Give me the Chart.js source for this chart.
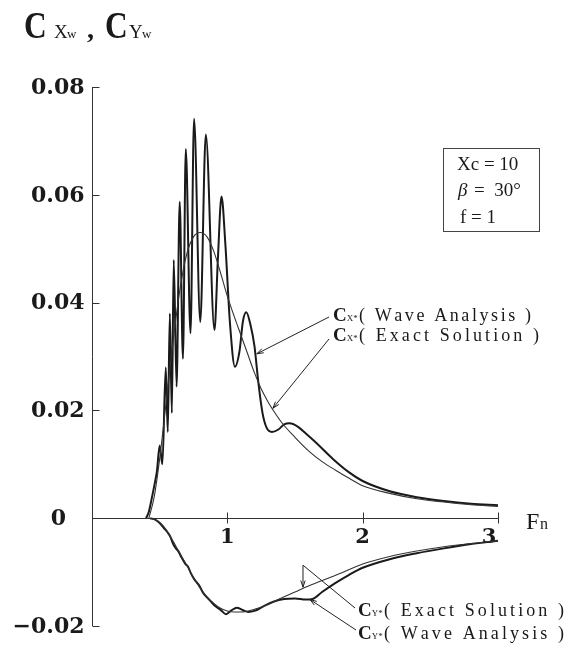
<!DOCTYPE html>
<html lang="en">
<head>
<meta charset="UTF-8" />
<title>Cxw , Cyw</title>
<style>
  html, body { margin: 0; padding: 0; background: #fff; }
  #wrap { width: 569px; height: 657px; }
</style>
</head>
<body>
<div id="wrap"><canvas id="coefChart" width="569" height="657"></canvas></div>
<script src="https://cdn.jsdelivr.net/npm/chart.js"></script>
<script>
// values (Fn on x, coefficient on y)
const cxWaveFn = [0.40, 0.42, 0.44, 0.46, 0.48, 0.50, 0.52, 0.545, 0.56, 0.575, 0.59, 0.604, 0.625, 0.648, 0.672,
  0.693, 0.728, 0.754, 0.80, 0.841, 0.905, 0.93, 0.957, 0.985, 1.02, 1.056, 1.09, 1.115, 1.14, 1.17, 1.20, 1.23,
  1.26, 1.29, 1.33, 1.38, 1.42, 1.46, 1.52, 1.58, 1.66, 1.78, 1.9, 2.0, 2.2, 2.4, 2.6, 2.8, 3.0];
const cxWave = [0, 0.0012, 0.0035, 0.0060, 0.0088, 0.0135, 0.0100, 0.0280, 0.0160, 0.0380, 0.0195, 0.0479, 0.0244, 0.0587, 0.0296,
  0.0685, 0.0343, 0.0741, 0.0364, 0.0712, 0.0349, 0.0480, 0.0597, 0.0510, 0.0360, 0.0281, 0.0310, 0.0365, 0.0382, 0.0360, 0.0320, 0.0250,
  0.0195, 0.0168, 0.0160, 0.0165, 0.0174, 0.0176, 0.0170, 0.0157, 0.0139, 0.0110, 0.0085, 0.0069, 0.0050, 0.0039, 0.0032, 0.0027, 0.0024];

const cxExactFn = [0.42, 0.46, 0.50, 0.55, 0.60, 0.65, 0.70, 0.75, 0.80, 0.85, 0.90, 0.95, 1.0, 1.05, 1.1, 1.15, 1.2,
  1.25, 1.3, 1.35, 1.4, 1.5, 1.6, 1.7, 1.8, 1.9, 2.0, 2.2, 2.4, 2.6, 2.8, 3.0];
const cxExact = [0, 0.0040, 0.0110, 0.0220, 0.0330, 0.0425, 0.0490, 0.0522, 0.0530, 0.0522, 0.0495, 0.0455, 0.0412, 0.0375, 0.0340, 0.0305, 0.0270,
  0.0240, 0.0216, 0.0196, 0.0178, 0.0150, 0.0125, 0.0105, 0.0089, 0.0074, 0.0060, 0.0046, 0.0036, 0.0030, 0.0025, 0.0022];

const cyWaveFn = [0.43, 0.47, 0.50, 0.53, 0.56, 0.58, 0.60, 0.62, 0.64, 0.66, 0.69, 0.71, 0.73, 0.76, 0.79, 0.82, 0.85, 0.88,
  0.91, 0.95, 0.99, 1.03, 1.07, 1.11, 1.155, 1.2, 1.27, 1.34, 1.42, 1.5, 1.58, 1.63, 1.7, 1.8, 1.9, 2.0, 2.2, 2.4, 2.6, 2.8, 3.0];
const cyWave = [0, -0.0003, -0.0009, -0.0018, -0.0027, -0.0035, -0.0048, -0.0056, -0.0062, -0.0072, -0.0085, -0.0090, -0.0102, -0.0115, -0.0124, -0.0138, -0.0147, -0.0155,
  -0.0163, -0.0170, -0.0178, -0.0171, -0.0166, -0.0170, -0.0174, -0.0172, -0.0163, -0.0155, -0.0150, -0.0149, -0.0151, -0.0150, -0.0137, -0.0120, -0.0105, -0.0092, -0.0076, -0.0065, -0.0056, -0.0048, -0.0042];

const cyExactFn = [0.43, 0.47, 0.50, 0.55, 0.60, 0.65, 0.70, 0.75, 0.80, 0.85, 0.90, 0.95, 1.0, 1.05, 1.1, 1.2, 1.3, 1.4,
  1.5, 1.6, 1.8, 2.0, 2.2, 2.4, 2.6, 2.8, 3.0];
const cyExact = [0, -0.0003, -0.0008, -0.0022, -0.0043, -0.0066, -0.0087, -0.0110, -0.0130, -0.0146, -0.0158, -0.0167, -0.0172, -0.0174, -0.0174, -0.0169, -0.0160, -0.0148,
  -0.0137, -0.0126, -0.0106, -0.0085, -0.0071, -0.0061, -0.0053, -0.0047, -0.0042];

const xTicks = [1, 2, 3];
const xTickLabels = ['1', '2', '3'];
const yTicks = [0.08, 0.06, 0.04, 0.02, 0, -0.02];
const yTickLabels = ['0.08', '0.06', '0.04', '0.02', '0', '\u22120.02'];

const ink = '#1a1a1a';
const serif = '"Liberation Serif", "DejaVu Serif", serif';

function pts(xs, ys) {
  return xs.map((v, i) => ({ x: v, y: ys[i] }));
}

// draw text with its letters spread so that it ends at endX
function spaced(ctx, text, x, y, endX) {
  const chars = [...text];
  const w = chars.map(c => ctx.measureText(c).width);
  const total = w.reduce((a, b) => a + b, 0);
  const gap = (endX - x - total) / (chars.length - 1);
  let cx = x;
  chars.forEach((c, i) => { ctx.fillText(c, cx, y); cx += w[i] + gap; });
}

function arrow(ctx, fx, fy, tx, ty) {
  ctx.beginPath();
  ctx.moveTo(fx, fy);
  ctx.lineTo(tx, ty);
  ctx.stroke();
  const a = Math.atan2(ty - fy, tx - fx), L = 7;
  ctx.beginPath();
  ctx.moveTo(tx - L * Math.cos(a - 0.32), ty - L * Math.sin(a - 0.32));
  ctx.lineTo(tx, ty);
  ctx.lineTo(tx - L * Math.cos(a + 0.32), ty - L * Math.sin(a + 0.32));
  ctx.stroke();
}

function coefLabel(ctx, sub, text, x, base, endX) {
  ctx.textAlign = 'left';
  ctx.textBaseline = 'alphabetic';
  ctx.font = 'bold 19px ' + serif;
  ctx.fillText('C', x, base);
  const cw = ctx.measureText('C').width;
  ctx.font = '9px ' + serif;
  ctx.fillText(sub, x + cw, base);
  ctx.font = '18px ' + serif;
  spaced(ctx, text, x + 26, base, endX);
}

// axes drawn by hand: y axis on the left, x axis through zero
const axesPlugin = {
  id: 'handAxes',
  beforeDatasetsDraw(chart) {
    const { ctx, scales: { x, y } } = chart;
    const x0 = Math.round(x.getPixelForValue(0)) + 0.5;
    const y0 = Math.round(y.getPixelForValue(0)) + 0.5;
    ctx.save();
    ctx.strokeStyle = '#333';
    ctx.lineWidth = 1;
    ctx.beginPath();
    ctx.moveTo(x0, y.getPixelForValue(0.08));
    ctx.lineTo(x0, y.getPixelForValue(-0.02));
    yTicks.forEach(v => {
      const py = Math.round(y.getPixelForValue(v)) + 0.5;
      ctx.moveTo(x0, py);
      ctx.lineTo(x0 + 7, py);
    });
    ctx.moveTo(x0, y0);
    ctx.lineTo(x.getPixelForValue(3), y0);
    xTicks.forEach(v => {
      const px = Math.round(x.getPixelForValue(v)) + 0.5;
      ctx.moveTo(px, y0 - 6);
      ctx.lineTo(px, y0 + 5);
    });
    ctx.stroke();

    ctx.fillStyle = ink;
    ctx.font = 'bold 22px "DejaVu Serif", serif';
    ctx.textBaseline = 'middle';
    yTicks.forEach((v, i) => {
      const py = y.getPixelForValue(v) + 1;
      if (v === 0) {
        ctx.textAlign = 'center';
        ctx.fillText(yTickLabels[i], x0 - 34, py);
      } else {
        ctx.textAlign = 'right';
        ctx.fillText(yTickLabels[i], x0 - 8, py);
      }
    });
    ctx.font = 'bold 21px "DejaVu Serif", serif';
    ctx.textAlign = 'center';
    ctx.textBaseline = 'alphabetic';
    xTicks.forEach((v, i) => {
      const shift = i === xTicks.length - 1 ? -9 : 0;
      ctx.fillText(xTickLabels[i], x.getPixelForValue(v) + shift, y0 + 24);
    });
    ctx.restore();
  }
};

const notesPlugin = {
  id: 'notes',
  afterDraw(chart) {
    const { ctx, scales: { x, y } } = chart;
    ctx.save();
    ctx.fillStyle = ink;
    ctx.strokeStyle = '#222';
    ctx.lineWidth = 1;

    // axis titles
    ctx.textAlign = 'left';
    ctx.textBaseline = 'alphabetic';
    ctx.save();
    ctx.translate(24, 38);
    ctx.scale(0.85, 1);
    ctx.font = 'bold 37px ' + serif;
    ctx.fillText('C', 0, 0);
    ctx.restore();
    ctx.font = '19px ' + serif;
    ctx.fillText('X', 54, 38);
    ctx.font = '13px ' + serif;
    ctx.fillText('w', 67, 38);
    ctx.font = 'bold 28px ' + serif;
    ctx.fillText(',', 87, 38);
    ctx.save();
    ctx.translate(105, 38);
    ctx.scale(0.85, 1);
    ctx.font = 'bold 37px ' + serif;
    ctx.fillText('C', 0, 0);
    ctx.restore();
    ctx.font = '19px ' + serif;
    ctx.fillText('Y', 129, 38);
    ctx.font = '13px ' + serif;
    ctx.fillText('w', 142, 38);

    ctx.font = '24px ' + serif;
    ctx.fillText('F', 526, 529);
    ctx.font = '16px ' + serif;
    ctx.fillText('n', 540, 529);

    // parameter box
    ctx.strokeStyle = '#444';
    ctx.strokeRect(443.5, 148.5, 96, 83);
    ctx.font = '19px ' + serif;
    ctx.fillText('Xc = 10', 457, 170);
    ctx.font = 'italic 19px ' + serif;
    ctx.fillText('\u03b2', 458, 196);
    ctx.font = '19px ' + serif;
    ctx.fillText('=  30\u00b0', 474, 196);
    ctx.fillText('f = 1', 460, 223);

    // curve labels with leader lines
    coefLabel(ctx, 'X*', '( Wave Analysis )', 333, 321, 531);
    coefLabel(ctx, 'X*', '( Exact Solution )', 333, 341, 539);
    coefLabel(ctx, 'Y*', '( Exact Solution )', 358, 616, 564);
    coefLabel(ctx, 'Y*', '( Wave Analysis )', 358, 639, 564);

    ctx.strokeStyle = '#222';
    arrow(ctx, 329, 317, x.getPixelForValue(1.218), y.getPixelForValue(0.0305));
    arrow(ctx, 329, 339, x.getPixelForValue(1.337), y.getPixelForValue(0.0204));
    const ex = x.getPixelForValue(1.559), ey = y.getPixelForValue(-0.0128);
    ctx.beginPath();
    ctx.moveTo(355, 608);
    ctx.lineTo(ex, ey - 22);
    ctx.stroke();
    arrow(ctx, ex, ey - 22, ex, ey);
    arrow(ctx, 356, 630, x.getPixelForValue(1.611), y.getPixelForValue(-0.0151));
    ctx.restore();
  }
};

const ctx = document.getElementById('coefChart').getContext('2d');
const coefChart = new Chart(ctx, {
  type: 'line',
  data: {
    datasets: [
      { label: 'Cx exact', data: pts(cxExactFn, cxExact), borderColor: '#333', borderWidth: 1.1 },
      { label: 'Cx wave', data: pts(cxWaveFn, cxWave), borderColor: ink, borderWidth: 2 },
      { label: 'Cy exact', data: pts(cyExactFn, cyExact), borderColor: '#333', borderWidth: 1.1 },
      { label: 'Cy wave', data: pts(cyWaveFn, cyWave), borderColor: ink, borderWidth: 2 }
    ]
  },
  options: {
    responsive: false,
    animation: false,
    parsing: false,
    layout: { padding: { left: 92, right: 71, top: 87, bottom: 31 } },
    elements: {
      point: { radius: 0 },
      line: { cubicInterpolationMode: 'monotone', fill: false }
    },
    plugins: {
      legend: { display: false },
      tooltip: { enabled: false }
    },
    scales: {
      x: { type: 'linear', min: 0, max: 3, display: false },
      y: { type: 'linear', min: -0.02, max: 0.08, display: false }
    }
  },
  plugins: [axesPlugin, notesPlugin]
});
</script>
</body>
</html>
